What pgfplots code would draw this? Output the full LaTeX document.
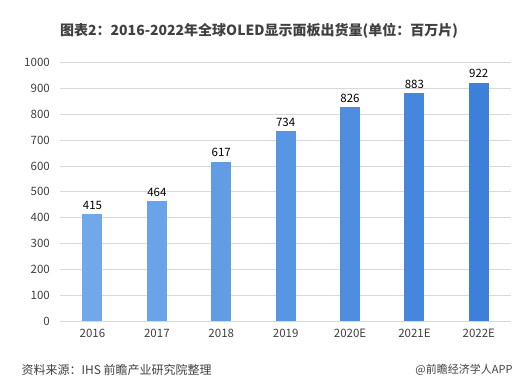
\documentclass[border=0pt]{standalone}
\usepackage{pgfplots}
\pgfplotsset{compat=1.18}
\usepackage{fontspec}
\setmainfont{Noto Sans CJK SC}
\definecolor{b0}{HTML}{70A8E9}
\definecolor{b1}{HTML}{6AA3E7}
\definecolor{b2}{HTML}{619CE5}
\definecolor{b3}{HTML}{5895E2}
\definecolor{b4}{HTML}{4F8EDF}
\definecolor{b5}{HTML}{4587DC}
\definecolor{b6}{HTML}{3D80DA}
\definecolor{gridc}{HTML}{D9D9D9}
\definecolor{txt}{HTML}{404040}
\begin{document}
\begin{tikzpicture}
\path[use as bounding box] (0pt,0pt) rectangle (529pt,386pt);
\begin{axis}[
  at={(60.3pt,65pt)}, anchor=south west,
  scale only axis, width=450.7pt, height=258.5pt,
  xmin=-0.5, xmax=6.5, ymin=0, ymax=1000,
  ytick={0,100,...,1000},
  xtick={0,...,6},
  xticklabels={2016,2017,2018,2019,2020E,2021E,2022E},
  axis x line*=bottom,
  axis y line*=left,
  x axis line style={draw=gridc, line width=0.8pt, -},
  y axis line style={draw=none},
  ymajorgrids, grid style={gridc, line width=0.6pt},
  major tick length=0pt,
  tick label style={font=\fontsize{11.5}{13}\selectfont, text=txt},
  /pgf/number format/assume math mode=true,
  /pgf/number format/1000 sep={},
  yticklabel style={xshift=-7pt},
  xticklabel style={yshift=-5pt},
  ybar, bar width=20pt, bar shift=0pt,
  nodes near coords,
  every node near coord/.append style={font=\fontsize{11.5}{13}\selectfont, text=black, yshift=1pt},
  clip=false,
]
\addplot[draw=none, fill=b0] coordinates {(0,415)};
\addplot[draw=none, fill=b1] coordinates {(1,464)};
\addplot[draw=none, fill=b2] coordinates {(2,617)};
\addplot[draw=none, fill=b3] coordinates {(3,734)};
\addplot[draw=none, fill=b4] coordinates {(4,826)};
\addplot[draw=none, fill=b5] coordinates {(5,883)};
\addplot[draw=none, fill=b6] coordinates {(6,922)};
\end{axis}
\node[font=\bfseries\fontsize{14}{16}\selectfont, text=txt] at (259pt,355pt) {图表2：2016-2022年全球OLED显示面板出货量(单位：百万片)};
\node[anchor=west, font=\fontsize{12}{14}\selectfont, text=txt] at (18pt,16pt) {资料来源：IHS 前瞻产业研究院整理};
\node[anchor=east, font=\fontsize{11}{13}\selectfont, text=txt] at (516pt,16pt) {@前瞻经济学人APP};
\end{tikzpicture}
\end{document}
